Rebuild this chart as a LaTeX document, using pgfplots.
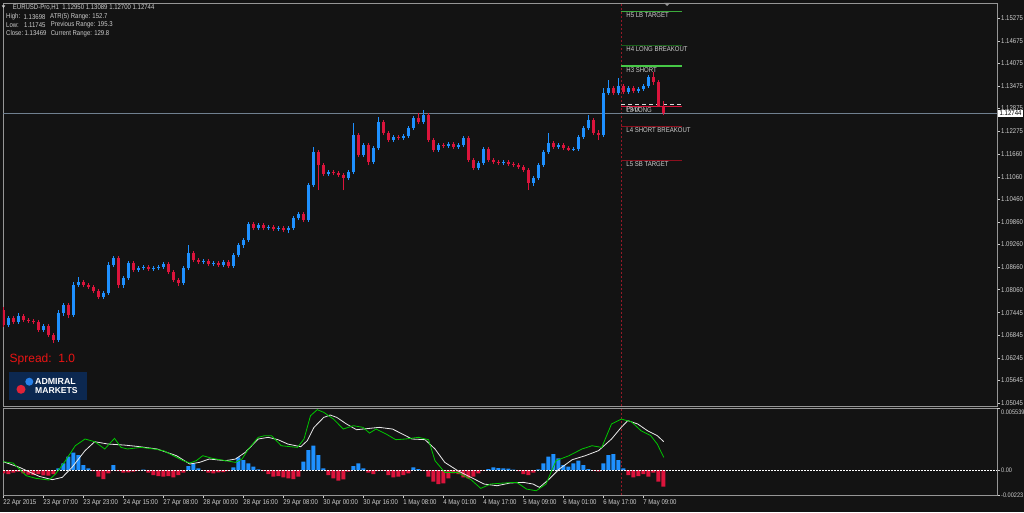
\documentclass[border=0pt]{standalone}
\usepackage{fontspec}
\setmainfont{Liberation Sans}
\newfontfamily\ui[FakeStretch=0.86]{Liberation Sans}
\usepackage{pgfplots}
\usepackage{pgfplotstable}
\pgfplotsset{compat=1.18}

\definecolor{bg}{RGB}{19,19,19}
\definecolor{frame}{RGB}{150,150,150}
\definecolor{lbl}{RGB}{205,205,205}
\definecolor{bull}{RGB}{30,144,255}
\definecolor{bear}{RGB}{220,20,60}
\definecolor{sigwhite}{RGB}{235,235,235}
\definecolor{siggreen}{RGB}{0,200,0}
\definecolor{curline}{RGB}{112,128,144}
\definecolor{daysep}{RGB}{150,25,40}
\definecolor{hfive}{RGB}{60,170,60}
\definecolor{hfour}{RGB}{25,95,25}
\definecolor{hthree}{RGB}{70,200,70}
\definecolor{lfour}{RGB}{140,15,30}
\definecolor{spread}{RGB}{235,20,20}
\definecolor{logobg}{RGB}{12,40,80}
\definecolor{logored}{RGB}{225,35,55}
\definecolor{logoblue}{RGB}{40,130,235}

% EURUSD H1, two-hour steps, x = hours from 22 Apr 15:00
\pgfplotstableread{
x o h l c
0 1.07516 1.07596 1.07064 1.07117
2 1.07117 1.07356 1.07064 1.07303
4 1.07303 1.07356 1.07144 1.07197
6 1.07197 1.07436 1.07144 1.07356
8 1.07356 1.07410 1.07197 1.07250
10 1.07250 1.07303 1.07170 1.07223
12 1.07223 1.07277 1.07144 1.07197
14 1.07197 1.07250 1.06931 1.06984
16 1.06984 1.07144 1.06931 1.07090
18 1.07090 1.07144 1.06798 1.06851
20 1.06851 1.06904 1.06638 1.06718
22 1.06718 1.07516 1.06665 1.07436
24 1.07436 1.07702 1.07356 1.07649
26 1.07649 1.07702 1.07303 1.07383
28 1.07383 1.08261 1.07330 1.08181
30 1.08181 1.08394 1.08128 1.08261
32 1.08261 1.08314 1.08128 1.08181
34 1.08181 1.08234 1.08075 1.08128
36 1.08128 1.08181 1.07968 1.08021
38 1.08021 1.08075 1.07809 1.07862
40 1.07862 1.08021 1.07809 1.07968
42 1.07968 1.08793 1.07915 1.08713
44 1.08713 1.08952 1.08660 1.08899
46 1.08899 1.08952 1.08101 1.08181
48 1.08181 1.08420 1.08101 1.08367
50 1.08367 1.08819 1.08314 1.08766
52 1.08766 1.08819 1.08527 1.08580
54 1.08580 1.08686 1.08527 1.08633
56 1.08633 1.08713 1.08580 1.08660
58 1.08660 1.08713 1.08553 1.08607
60 1.08607 1.08686 1.08553 1.08633
62 1.08633 1.08713 1.08580 1.08660
64 1.08660 1.08793 1.08607 1.08740
66 1.08740 1.08793 1.08474 1.08527
68 1.08527 1.08580 1.08261 1.08314
70 1.08314 1.08367 1.08154 1.08234
72 1.08234 1.08686 1.08181 1.08633
74 1.08633 1.09245 1.08580 1.09032
76 1.09032 1.09085 1.08793 1.08846
78 1.08846 1.08899 1.08740 1.08793
80 1.08793 1.08873 1.08740 1.08819
82 1.08819 1.08873 1.08686 1.08740
84 1.08740 1.08819 1.08686 1.08766
86 1.08766 1.08819 1.08660 1.08713
88 1.08713 1.08846 1.08660 1.08793
90 1.08793 1.08846 1.08633 1.08686
92 1.08686 1.09032 1.08633 1.08979
94 1.08979 1.09298 1.08926 1.09245
96 1.09245 1.09431 1.09165 1.09378
98 1.09378 1.09857 1.09325 1.09804
100 1.09804 1.09857 1.09644 1.09697
102 1.09697 1.09830 1.09644 1.09777
104 1.09777 1.09830 1.09644 1.09697
106 1.09697 1.09777 1.09644 1.09724
108 1.09724 1.09777 1.09617 1.09671
110 1.09671 1.09750 1.09617 1.09697
112 1.09697 1.09750 1.09591 1.09644
114 1.09644 1.09750 1.09564 1.09697
116 1.09697 1.10016 1.09644 1.09963
118 1.09963 1.10123 1.09910 1.10069
120 1.10069 1.10123 1.09857 1.09910
122 1.09910 1.10894 1.09857 1.10841
124 1.10841 1.11852 1.10788 1.11719
126 1.11719 1.11772 1.10708 1.11373
128 1.11373 1.11426 1.11080 1.11134
130 1.11134 1.11240 1.11080 1.11187
132 1.11187 1.11240 1.11107 1.11160
134 1.11160 1.11214 1.11054 1.11107
136 1.11107 1.11160 1.10708 1.11027
138 1.11027 1.11240 1.10974 1.11187
140 1.11187 1.12490 1.11134 1.12171
142 1.12171 1.12224 1.11586 1.11639
144 1.11639 1.11958 1.11586 1.11905
146 1.11905 1.11958 1.11373 1.11453
148 1.11453 1.11878 1.11400 1.11825
150 1.11825 1.12650 1.11772 1.12517
152 1.12517 1.12570 1.12171 1.12224
154 1.12224 1.12277 1.11985 1.12038
156 1.12038 1.12171 1.11985 1.12118
158 1.12118 1.12171 1.12038 1.12091
160 1.12091 1.12198 1.12038 1.12144
162 1.12144 1.12410 1.12091 1.12357
164 1.12357 1.12676 1.12304 1.12623
166 1.12623 1.12756 1.12464 1.12517
168 1.12517 1.12836 1.12464 1.12703
170 1.12703 1.12756 1.11985 1.12038
172 1.12038 1.12091 1.11719 1.11772
174 1.11772 1.11958 1.11719 1.11905
176 1.11905 1.11958 1.11825 1.11878
178 1.11878 1.11985 1.11825 1.11932
180 1.11932 1.11985 1.11799 1.11852
182 1.11852 1.11958 1.11799 1.11905
184 1.11905 1.12144 1.11852 1.12091
186 1.12091 1.12144 1.11453 1.11506
188 1.11506 1.11559 1.11240 1.11293
190 1.11293 1.11479 1.11240 1.11426
192 1.11426 1.11852 1.11373 1.11799
194 1.11799 1.11852 1.11453 1.11506
196 1.11506 1.11559 1.11400 1.11453
198 1.11453 1.11506 1.11373 1.11426
200 1.11426 1.11506 1.11373 1.11453
202 1.11453 1.11506 1.11346 1.11400
204 1.11400 1.11453 1.11320 1.11373
206 1.11373 1.11426 1.11266 1.11320
208 1.11320 1.11373 1.11187 1.11240
210 1.11240 1.11293 1.10708 1.10894
212 1.10894 1.11080 1.10814 1.11027
214 1.11027 1.11426 1.10974 1.11373
216 1.11373 1.11772 1.11320 1.11719
218 1.11719 1.12224 1.11666 1.11958
220 1.11958 1.12011 1.11799 1.11852
222 1.11852 1.11958 1.11799 1.11905
224 1.11905 1.11958 1.11772 1.11825
226 1.11825 1.11878 1.11745 1.11772
228 1.11772 1.11852 1.11745 1.11799
230 1.11799 1.12171 1.11745 1.12118
232 1.12118 1.12410 1.12065 1.12357
234 1.12357 1.12703 1.12304 1.12570
236 1.12570 1.12623 1.12171 1.12224
238 1.12224 1.12304 1.12038 1.12171
240 1.12171 1.13421 1.12118 1.13288
242 1.13288 1.13634 1.13235 1.13421
244 1.13421 1.13474 1.13235 1.13288
246 1.13288 1.13698 1.13235 1.13469
248 1.13469 1.13528 1.13258 1.13315
250 1.13315 1.13474 1.13258 1.13421
252 1.13421 1.13474 1.13288 1.13341
254 1.13341 1.13448 1.13288 1.13394
256 1.13394 1.13528 1.13341 1.13474
258 1.13474 1.13767 1.13421 1.13714
260 1.13714 1.13847 1.13501 1.13581
262 1.13581 1.13634 1.12916 1.12950
264 1.12950 1.13089 1.12700 1.12744
}\candles

% oscillator histogram
\pgfplotstableread{
b v
0 -0.000298
2 -0.000358
4 -0.000238
6 -0.000149
8 -0.000298
10 -0.000417
12 -0.000447
14 -0.000358
16 -0.000477
18 -0.000507
20 -0.000358
22 0.000149
24 0.000596
26 0.001192
28 0.001550
30 0.001341
32 0.000447
34 0.000149
36 -0.000089
38 -0.000596
40 -0.000805
42 -0.000298
44 0.000447
46 -0.000089
48 -0.000238
50 -0.000209
52 -0.000149
54 -0.000060
56 0.000030
58 -0.000238
60 -0.000447
62 -0.000536
64 -0.000596
66 -0.000536
68 -0.000656
70 -0.000447
72 -0.000238
74 0.000358
76 0.000596
78 0.000149
80 -0.000060
82 -0.000238
84 -0.000298
86 -0.000209
88 -0.000179
90 -0.000089
92 0.000238
94 0.001132
96 0.000894
98 0.000596
100 0.000298
102 0.000060
104 -0.000089
106 -0.000358
108 -0.000596
110 -0.000536
112 -0.000656
114 -0.000745
116 -0.000805
118 -0.000596
120 0.000745
122 0.001788
124 0.002175
126 0.001341
128 0.000149
130 -0.000447
132 -0.000745
134 -0.000954
136 -0.000834
138 -0.000149
140 0.000358
142 0.000596
144 0.000149
146 -0.000238
148 -0.000358
150 -0.000089
152 -0.000060
154 -0.000447
156 -0.000656
158 -0.000596
160 -0.000447
162 -0.000298
164 0.000238
166 0.000089
168 -0.000060
170 -0.000596
172 -0.001043
174 -0.001252
176 -0.001192
178 -0.000745
180 -0.000298
182 -0.000358
184 -0.000656
186 -0.000745
188 -0.000596
190 -0.000298
192 -0.000060
194 0.000089
196 0.000238
198 0.000179
200 0.000149
202 0.000119
204 0.000030
206 -0.000089
208 -0.000358
210 -0.000447
212 -0.000238
214 0.000060
216 0.000596
218 0.001192
220 0.001430
222 0.001043
224 0.000447
226 0.000298
228 0.000596
230 0.000834
232 0.000447
234 0.000089
236 -0.000060
238 -0.000119
240 0.000596
242 0.001341
244 0.001430
246 0.000894
248 0.000149
250 -0.000447
252 -0.000656
254 -0.000536
256 -0.000358
258 -0.000596
260 -0.000238
262 -0.001043
264 -0.001490
}\histo

\pgfplotsset{
  mt/.style={scale only axis, anchor=south west, xmin=-0.1, xmax=397.5,
    axis line style={draw=frame, line width=0.8pt},
    ytick pos=right, yticklabel pos=right, tick align=outside,
    major tick length=3pt, tick style={draw=lbl, line width=0.5pt},
    ticklabel style={font=\ui\fontsize{7}{8}\selectfont, text=lbl, inner sep=1pt},
    scaled y ticks=false, scaled x ticks=false},
  up/.style={restrict expr to domain={\thisrow{c}-\thisrow{o}}{0:1}},
  down/.style={restrict expr to domain={\thisrow{c}-\thisrow{o}}{-1:0}},
  wick/.style={color=#1, line width=1pt, quiver={u=0, v={\thisrow{h}-\thisrow{l}}}},
  body/.style={color=#1, line width=3.2pt, quiver={u=0, v={\thisrow{c}-\thisrow{o}}}},
}
\tikzset{lvl/.style={anchor=north west, inner sep=1pt, text=lbl, font=\ui\fontsize{7}{8}\selectfont}}

\begin{document}
\begin{tikzpicture}
\useasboundingbox (0pt,0pt) rectangle (1024pt,512pt);
\fill[bg] (0pt,0pt) rectangle (1024pt,512pt);

% price panel
\begin{axis}[mt, at={(3pt,106pt)}, width=994pt, height=403pt,
  ymin=1.04965, ymax=1.15682, xtick=\empty,
  ytick={1.05045,1.05645,1.06245,1.06845,1.07445,1.08060,1.08660,1.09260,1.09860,1.10460,1.11060,1.11660,1.12275,1.12875,1.13475,1.14075,1.14675,1.15275},
  yticklabels={1.05045,1.05645,1.06245,1.06845,1.07445,1.08060,1.08660,1.09260,1.09860,1.10460,1.11060,1.11660,1.12275,1.12875,1.13475,1.14075,1.14675,1.15275}]

\addplot[daysep, line width=0.7pt, dash pattern=on 2pt off 2pt] coordinates {(247.1,1.04965) (247.1,1.15682)};
\addplot[curline, line width=0.7pt] coordinates {(-0.1,1.12744) (397.5,1.12744)};

\addplot[hfive, line width=1pt] coordinates {(247.1,1.15453) (271.4,1.15453)};
\addplot[hfour, line width=1pt] coordinates {(247.1,1.14543) (271.4,1.14543)};
\addplot[hthree, line width=1.5pt] coordinates {(247.1,1.14006) (271.4,1.14006)};
\addplot[white!85!black, line width=1pt, dash pattern=on 4pt off 3pt] coordinates {(247.1,1.12971) (271.4,1.12971)};
\addplot[bear, line width=1.3pt] coordinates {(247.1,1.12932) (271.4,1.12932)};
\addplot[lfour, line width=1pt] coordinates {(247.1,1.12395) (271.4,1.12395)};
\addplot[lfour, line width=1pt] coordinates {(247.1,1.11485) (271.4,1.11485)};

\node[lvl] at (axis cs:248.8,1.15453) {H5 LB TARGET};
\node[lvl] at (axis cs:248.8,1.14543) {H4 LONG BREAKOUT};
\node[lvl] at (axis cs:248.8,1.14006) {H3 SHORT};
\node[lvl] at (axis cs:248.8,1.12971) {Pivot};
\node[lvl] at (axis cs:248.8,1.12932) {L3 LONG};
\node[lvl] at (axis cs:248.8,1.12395) {L4 SHORT BREAKOUT};
\node[lvl] at (axis cs:248.8,1.11485) {L5 SB TARGET};

% candles: up in blue, down in red
\addplot[up, wick=bull] table[x=x, y=l] {\candles};
\addplot[up, body=bull] table[x=x, y=o] {\candles};
\addplot[down, wick=bear] table[x=x, y=l] {\candles};
\addplot[down, body=bear] table[x=x, y=o] {\candles};

\coordinate (tag) at (axis cs:397.5,1.12744);
\end{axis}
\node[fill=white, text=black, font=\ui\fontsize{7}{8}\selectfont, inner xsep=1.5pt, inner ysep=1pt, anchor=west, xshift=1pt] at (tag) {1.12744};

% oscillator panel
\begin{axis}[mt, at={(3pt,17pt)}, width=994pt, height=87pt,
  ymin=-0.00223, ymax=0.005539,
  xtick={0,16,32,48,64,80,96,112,128,144,160,176,192,208,224,240,256},
  xticklabels={22 Apr 2015,23 Apr 07:00,23 Apr 23:00,24 Apr 15:00,27 Apr 08:00,28 Apr 00:00,28 Apr 16:00,29 Apr 08:00,30 Apr 00:00,30 Apr 16:00,1 May 08:00,4 May 01:00,4 May 17:00,5 May 09:00,6 May 01:00,6 May 17:00,7 May 09:00},
  xtick pos=bottom, xticklabel style={anchor=north west, xshift=-1pt},
  ytick={-0.00223,0}, yticklabels={-0.00223,0.00},
  yticklabel style={font=\ui\fontsize{6.5}{7}\selectfont},
  extra y ticks={0.005539}, extra y tick labels={0.005539},
  extra y tick style={yticklabel style={yshift=-4pt}}]

\addplot[daysep, line width=0.7pt, dash pattern=on 2pt off 2pt] coordinates {(247.1,-0.00223) (247.1,0.005539)};

\addplot[ybar, bar width=1.6, bar shift=0pt, fill=bull, draw=none, restrict y to domain=0:1]
  table[x=b, y=v] {\histo};
\addplot[ybar, bar width=1.6, bar shift=0pt, fill=bear, draw=none, restrict y to domain=-1:0]
  table[x=b, y=v] {\histo};

\addplot[white, line width=0.6pt, dash pattern=on 1.5pt off 1.5pt] coordinates {(-0.1,0) (397.5,0)};

\addplot[sigwhite, line width=0.8pt] coordinates {
(0,0.000744) (6.5,0.000238) (14.4,-0.000566) (19.6,-0.000863) (23.6,-0.000655)
(27.5,0.000238) (32.7,0.001727) (36.6,0.00253) (41.9,0.00232) (48.4,0.00223)
(53.6,0.00211) (61.5,0.00188) (69.3,0.00128) (74.6,0.000536) (78.5,0.000685)
(82.4,0.000982) (88.9,0.000834) (92.9,0.000982) (96.8,0.00158) (102.0,0.00277)
(106.0,0.00292) (109.9,0.00271) (113.8,0.00232) (119.0,0.00208) (121.6,0.00262)
(124.3,0.00381) (128.2,0.00470) (130.8,0.00491) (133.4,0.00470) (137.3,0.00411)
(141.3,0.00360) (146.5,0.00372) (150.4,0.00381) (155.7,0.00366) (159.6,0.00322)
(163.5,0.00277) (168.7,0.00271) (172.7,0.00188) (176.6,0.000685) (181.8,-0.0000595)
(187.1,-0.000655) (192.3,-0.00125) (197.5,-0.00140) (202.7,-0.00116) (208.0,-0.00110)
(211.9,-0.00125) (214.5,-0.00155) (218.4,-0.000804) (222.4,0.0000893) (227.6,0.000923)
(232.8,0.00128) (238.1,0.00173) (243.3,0.00277) (247.2,0.00381) (249.8,0.00441)
(253.8,0.00411) (257.7,0.00351) (261.6,0.00307) (264.2,0.00253)};

\addplot[siggreen, line width=0.8pt] coordinates {
(0,0.000744) (3.9,0.000625) (9.2,-0.000506) (13.1,-0.000744) (18.3,-0.000893)
(20.9,-0.000357) (24.9,0.000834) (28.8,0.00217) (32.7,0.00277) (36.6,0.00253)
(40.6,0.00188) (44.5,0.00283) (47.1,0.00202) (49.7,0.00188) (55.0,0.00202)
(60.2,0.00188) (64.1,0.00173) (68.0,0.00128) (72.0,0.000834) (74.6,0.000625)
(77.2,0.000834) (79.8,0.00128) (83.7,0.00104) (88.9,0.000834) (92.9,0.000685)
(95.5,0.000982) (98.1,0.00188) (102.0,0.00292) (104.6,0.00307) (107.3,0.00307)
(111.2,0.00217) (117.7,0.00202) (120.3,0.00277) (122.9,0.00485) (125.6,0.00539)
(128.2,0.00515) (132.1,0.00455) (136.0,0.00366) (140.0,0.00396) (143.9,0.00381)
(146.5,0.00330) (149.1,0.00366) (153.1,0.00322) (157.0,0.00271) (160.9,0.00277)
(166.1,0.00292) (170.1,0.00271) (172.7,0.000834) (176.6,-0.000208) (181.8,-0.000208)
(187.1,-0.000863) (191.0,-0.00164) (194.9,-0.00125) (200.1,-0.00116) (205.4,-0.00110)
(209.3,-0.00170) (213.2,-0.00185) (217.1,-0.00125) (221.1,0.000834) (226.3,0.00128)
(231.5,0.00188) (235.5,0.00217) (239.4,0.00202) (243.3,0.00411) (247.2,0.00455)
(251.2,0.00432) (255.1,0.00351) (259.0,0.00307) (261.6,0.00232) (264.2,0.00113)};
\end{axis}

% chart header
\fill[lbl] (1.8pt,506.5pt) -- (5.2pt,506.5pt) -- (3.5pt,504pt) -- cycle;
\begin{scope}[every node/.style={anchor=west, inner sep=0pt, text=lbl, font=\ui\fontsize{7}{8}\selectfont}]
\node at (12.7pt,504.7pt) {EURUSD-Pro,H1\ \ 1.12950 1.13089 1.12700 1.12744};
\node at (6pt,495.3pt) {High:};
\node at (23.5pt,495.3pt) {1.13698};
\node at (50pt,495.3pt) {ATR(5) Range: 152.7};
\node at (6pt,487pt) {Low:};
\node at (24pt,487pt) {1.11745};
\node at (50.7pt,487pt) {Previous Range: 195.3};
\node at (6pt,478.7pt) {Close:};
\node at (24.5pt,478.7pt) {1.13469};
\node at (50.7pt,478.7pt) {Current Range: 129.8};
\end{scope}
\fill[frame] (664pt,509pt) -- (670pt,509pt) -- (667pt,506pt) -- cycle;

% spread and broker logo
\node[anchor=west, inner sep=0pt, text=spread, font=\fontsize{12}{14}\selectfont] at (9.5pt,153pt) {Spread:\ \ 1.0};
\fill[logobg] (9pt,112pt) rectangle (87pt,140pt);
\fill[logored] (21pt,122.7pt) circle (4.5pt);
\fill[logoblue] (29.3pt,130.3pt) circle (4pt);
\node[anchor=west, inner sep=0pt, text=white, font=\bfseries\fontsize{8.8}{9}\selectfont] at (35pt,130.5pt) {ADMIRAL};
\node[anchor=west, inner sep=0pt, text=white, font=\bfseries\fontsize{8.6}{9}\selectfont] at (35pt,121pt) {MARKETS};
\end{tikzpicture}
\end{document}
